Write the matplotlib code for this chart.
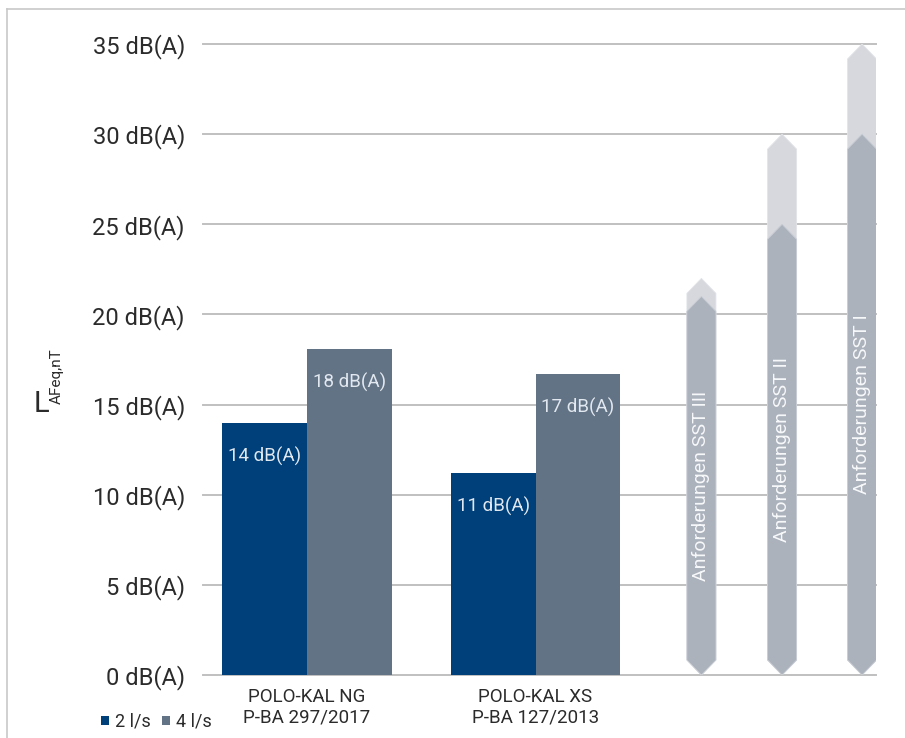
import numpy as np
import matplotlib
matplotlib.use("Agg")
import matplotlib.pyplot as plt
from matplotlib.lines import Line2D
from matplotlib.patches import Polygon

plt.rcParams['font.family'] = ['Roboto', 'DejaVu Sans']

# data
groups = ["POLO-KAL NG", "POLO-KAL XS"]
approvals = ["P-BA 297/2017", "P-BA 127/2013"]
series_names = ["2 l/s", "4 l/s"]
vals_2ls = [14.0, 11.2]
vals_4ls = [18.1, 16.7]
req_names = ["Anforderungen SST III", "Anforderungen SST II", "Anforderungen SST I"]
req_dark = [21, 25, 30]
req_light = [22, 30, 35]
yticks = [0, 5, 10, 15, 20, 25, 30, 35]

c_dark = '#00407a'
c_gray = '#637386'
c_arrow = '#abb2bc'
c_arrow_light = '#d6d8de'
c_grid = '#c0c0c0'
c_text = '#2b2b2b'

W, H = 905, 738
fig = plt.figure(figsize=(W / 100, H / 100), dpi=100)
ax = fig.add_axes([203 / W, 1 - 675 / H, (876 - 203) / W, (675 - 44) / H])
ax.set_xlim(-0.455, 2.490)
ax.set_ylim(0, 35)
for s in ax.spines.values():
    s.set_visible(False)

# grid
for v in yticks:
    ax.axhline(v, color=c_grid, lw=1.4, zorder=0, clip_on=False)

ax.set_yticks(yticks)
ax.set_yticklabels([f"{v} dB(A)" for v in yticks], fontsize=17, color=c_text)
ax.tick_params(axis='y', length=0, pad=13)
ax.set_xticks([])

# bars
x = np.arange(len(groups))
bw = 0.37
b1 = ax.bar(x - bw / 2, vals_2ls, bw, color=c_dark, zorder=2, label=series_names[0])
b2 = ax.bar(x + bw / 2, vals_4ls, bw, color=c_gray, zorder=2, label=series_names[1])
for xs, vs in [(x - bw / 2, vals_2ls), (x + bw / 2, vals_4ls)]:
    for xi, v in zip(xs, vs):
        ax.annotate(f"{round(v)} dB(A)", (xi, v), xytext=(0, -24), textcoords='offset points',
                    ha='center', va='center', fontsize=13.5, color='#e2e8ef', zorder=3)

# category labels
for xi, g, a in zip(x, groups, approvals):
    ax.text(xi, -22 / 631, g, transform=ax.get_xaxis_transform(), ha='center', va='center',
            fontsize=13.5, color=c_text)
    ax.text(xi, -42 / 631, a, transform=ax.get_xaxis_transform(), ha='center', va='center',
            fontsize=13.5, color=c_text)

# requirement arrows
arrow_x = [1.726, 2.079, 2.429]
hw = 0.0635
tip = 0.83


def arrow_poly(xc, top):
    return [(xc - hw, tip), (xc, 0), (xc + hw, tip), (xc + hw, top - tip),
            (xc, top), (xc - hw, top - tip)]


for xc, name, dtop, ltop in zip(arrow_x, req_names, req_dark, req_light):
    ax.add_patch(Polygon(arrow_poly(xc, ltop), closed=True, facecolor=c_arrow_light,
                         edgecolor='#e2e4e8', lw=0.6, zorder=2))
    ax.add_patch(Polygon(arrow_poly(xc, dtop), closed=True, facecolor=c_arrow,
                         edgecolor='#c9cdd4', lw=0.6, zorder=2.5))
    ax.text(xc, dtop / 2, name, rotation=90, ha='center', va='center', fontsize=14,
            color='#f7f8fa', zorder=3)

# y label
fig.text(34 / W, 1 - 412 / H, "L", fontsize=21, color=c_text, ha='left', va='baseline')
fig.text(50 / W, 1 - 404 / H, "AFeq,nT", fontsize=11, color=c_text, rotation=90,
         ha='left', va='bottom')

# legend
ax.legend(handles=[b1, b2], loc='center left', bbox_to_anchor=(92 / W, 1 - 722 / H),
          bbox_transform=fig.transFigure, ncol=2, frameon=False, fontsize=13,
          handlelength=0.45, handleheight=0.45, handletextpad=0.35, columnspacing=0.6,
          borderpad=0, labelcolor=c_text)

# frame
fig.add_artist(Line2D([7 / W, 7 / W], [0, 1 - 9 / H], transform=fig.transFigure,
                      color='#c8c8c8', lw=1.2))
fig.add_artist(Line2D([7 / W, 1], [1 - 9 / H, 1 - 9 / H], transform=fig.transFigure,
                      color='#c8c8c8', lw=1.2))

fig.savefig('out.png', dpi=100)
